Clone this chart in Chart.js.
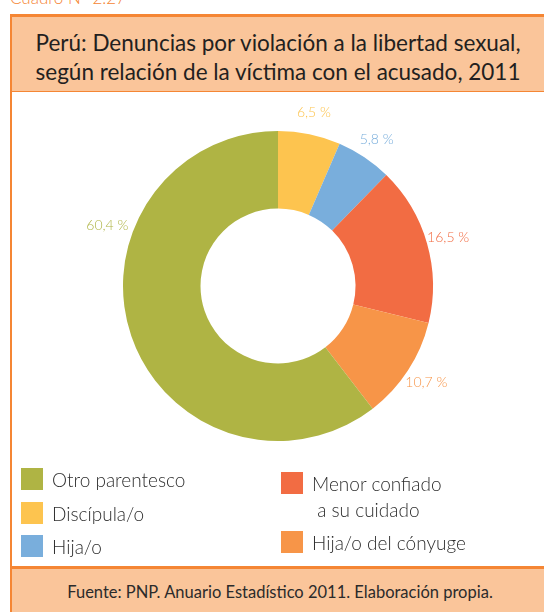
<!DOCTYPE html>
<html>
<head>
<meta charset="utf-8">
<script src="https://cdn.jsdelivr.net/npm/chart.js@4"></script>
<style>
  body { margin: 0; width: 544px; height: 612px; background: #fff; overflow: hidden; position: relative; font-family: Lato, "DejaVu Sans", sans-serif; color: #2b2b2b; }
  #cuadro { position: absolute; left: 10px; top: -13px; font-size: 17px; color: #f58634; font-weight: 300; }
  #frame { position: absolute; left: 10px; top: 14px; width: 560px; height: 598px; border-left: 2px solid #f58634; }
  #titlebox { position: absolute; left: 10px; top: 14px; width: 560px; height: 74px; background: #fac59a; border-top: 3px solid #f58634; border-bottom: 1px solid #f58634; border-left: 2px solid #f58634; }
  #title { position: absolute; left: 12px; top: 28px; width: 532px; text-align: center; font-size: 22.5px; line-height: 29px; color: #231f20; }
  #footer { position: absolute; left: 10px; top: 566px; width: 560px; height: 46px; background: #fac59a; border-top: 3px solid #f58634; border-left: 2px solid #f58634; }
  #fuente { position: absolute; left: 12px; top: 582px; width: 536px; text-align: center; font-size: 16.5px; color: #2b2b2b; font-weight: 400; }
  #wrap { position: absolute; left: 78px; top: 86px; width: 400px; height: 400px; }
  .leg { position: absolute; font-size: 19px; color: #2e2e2e; font-weight: 300; }
  .sq { position: absolute; width: 22px; height: 22px; }
</style>
</head>
<body>
<div id="cuadro">Cuadro N° 2.27</div>
<div id="frame"></div>
<div id="titlebox"></div>
<div id="title">Perú: Denuncias por violación a la libertad sexual,<br>según relación de la víctima con el acusado, 2011</div>
<div id="wrap"><canvas id="pie"></canvas></div>
<div id="legend"></div>
<div id="footer"></div>
<div id="fuente">Fuente: PNP. Anuario Estadístico 2011. Elaboración propia.</div>
<script>
var categories = ["Discípula/o", "Hija/o", "Menor confiado\na su cuidado", "Hija/o del cónyuge", "Otro parentesco"];
var values = [6.5, 5.8, 16.5, 10.7, 60.4];
var colors = ["#fdc44f", "#79aedc", "#f26c43", "#f79548", "#afb444"];

// legend columns (indexes into categories)
var leftCol = [4, 0, 1];
var rightCol = [2, 3];

var legend = document.getElementById("legend");
function addItem(i, x, y) {
  var sq = document.createElement("div");
  sq.className = "sq";
  sq.style.left = x + "px";
  sq.style.top = y + "px";
  sq.style.background = colors[i];
  legend.appendChild(sq);
  var t = document.createElement("div");
  t.className = "leg";
  t.style.left = (x + 31) + "px";
  t.style.top = (y - 1) + "px";
  t.style.lineHeight = "26px";
  t.innerHTML = categories[i].replace("\n", "<br>&nbsp;");
  legend.appendChild(t);
}
leftCol.forEach(function(i, k) { addItem(i, 21, 468 + k * 33.5); });
addItem(rightCol[0], 281, 472);
addItem(rightCol[1], 281, 531);

var pctLabels = {
  id: "pctLabels",
  afterDatasetsDraw: function(chart) {
    var ctx = chart.ctx;
    var arcs = chart.getDatasetMeta(0).data;
    ctx.save();
    ctx.font = "300 14px Lato";
    ctx.textAlign = "center";
    ctx.textBaseline = "middle";
    arcs.forEach(function(arc, i) {
      var a = (arc.startAngle + arc.endAngle) / 2;
      var r = arc.outerRadius + 22;
      if (values[i] > 50) { a = 199.5 * Math.PI / 180; r = arc.outerRadius + 26; }
      ctx.fillStyle = colors[i];
      var txt = values[i].toFixed(1).replace(".", ",") + " %";
      ctx.fillText(txt, arc.x + r * Math.cos(a), arc.y + r * Math.sin(a));
    });
    ctx.restore();
  }
};

var chart = new Chart(document.getElementById("pie"), {
  type: "doughnut",
  data: {
    labels: categories,
    datasets: [{
      data: values,
      backgroundColor: colors,
      borderWidth: 0
    }]
  },
  options: {
    responsive: true,
    maintainAspectRatio: false,
    animation: false,
    cutout: "50%",
    layout: { padding: 45 },
    plugins: {
      legend: { display: false },
      tooltip: { enabled: false }
    }
  },
  plugins: [pctLabels]
});
</script>
</body>
</html>
